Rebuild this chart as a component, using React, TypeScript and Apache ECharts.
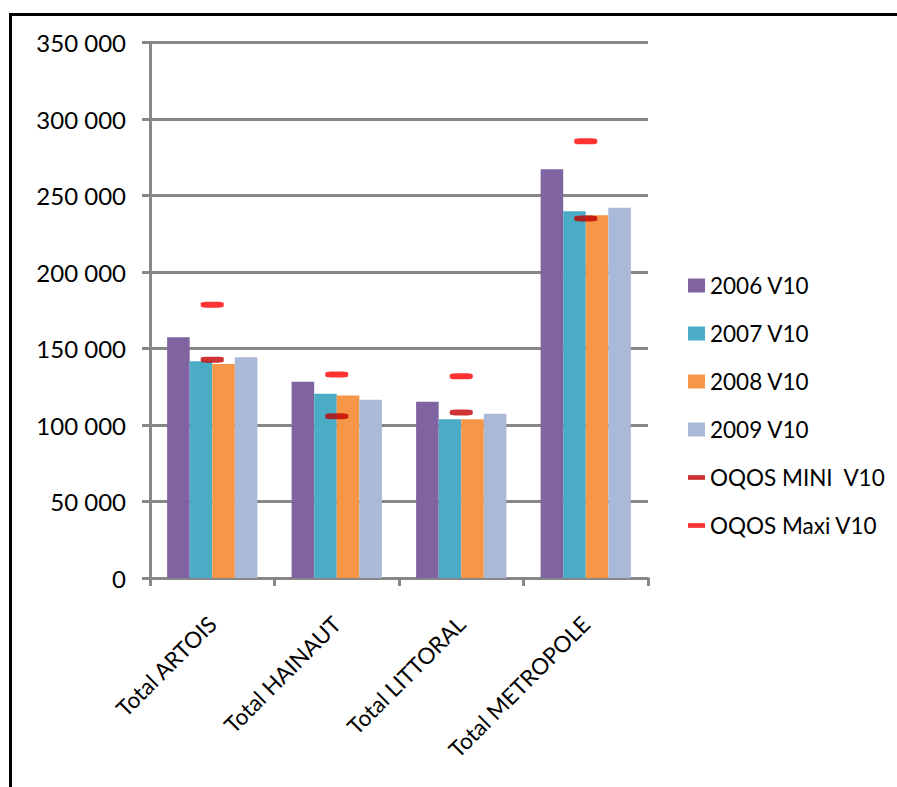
import React, { useEffect, useRef } from "react";
import * as echarts from "echarts";

const categories = ["Total ARTOIS", "Total HAINAUT", "Total LITTORAL", "Total METROPOLE"];
const seriesNames = ["2006 V10", "2007 V10", "2008 V10", "2009 V10", "OQOS MINI  V10", "OQOS Maxi V10"];
const v2006 = [157300, 128300, 115200, 267100];
const v2007 = [141600, 120500, 103700, 239700];
const v2008 = [139900, 119200, 103700, 237100];
const v2009 = [144300, 116500, 107400, 242000];
const oqosMini = [142700, 105700, 108200, 235000];
const oqosMaxi = [178600, 133000, 131800, 285400];

const barColors = ["#8064A2", "#4BACC6", "#F79646", "#AAB9D7"];
const miniColor = "#C00000";
const maxiColor = "#FF0000";

const fmt = (v: number) => String(v).replace(/\B(?=(\d{3})+(?!\d))/g, " ");

export default function App() {
  const ref = useRef<HTMLDivElement>(null);
  useEffect(() => {
    if (!ref.current) return;
    const chart = echarts.init(ref.current, null, { renderer: "svg" });
    const font = "Lato, 'Open Sans', sans-serif";
    const barData = [v2006, v2007, v2008, v2009];
    const dashIcon = "path://M0,0 L18,0 L18,5 L0,5 Z";
    chart.setOption({
      animation: false,
      backgroundColor: "#ffffff",
      textStyle: { fontFamily: font },
      graphic: [
        {
          type: "rect",
          shape: { x: 10.5, y: 14.5, width: 1200, height: 1200 },
          style: { fill: "none", stroke: "#000", lineWidth: 3 },
          silent: true,
          z: 100,
        },
      ],
      grid: { left: 150, top: 42.5, right: 249, bottom: 209, containLabel: false },
      legend: {
        orient: "vertical",
        left: 683,
        top: 269,
        itemWidth: 17,
        itemHeight: 14,
        itemGap: 25,
        symbolKeepAspect: true,
        textStyle: { fontFamily: font, fontSize: 22.5, color: "#000" },
        data: [
          { name: seriesNames[0], icon: "rect" },
          { name: seriesNames[1], icon: "rect" },
          { name: seriesNames[2], icon: "rect" },
          { name: seriesNames[3], icon: "rect" },
          { name: seriesNames[4], icon: dashIcon },
          { name: seriesNames[5], icon: dashIcon },
        ],
      },
      xAxis: {
        type: "category",
        data: categories,
        axisLine: { show: true, lineStyle: { color: "#878787", width: 3 } },
        axisTick: { show: true, length: 8, lineStyle: { color: "#878787", width: 3 } },
        axisLabel: {
          rotate: 45,
          interval: 0,
          margin: 42,
          fontFamily: font,
          fontSize: 22.5,
          color: "#000",
        },
        splitLine: { show: false },
      },
      yAxis: {
        type: "value",
        min: 0,
        max: 350000,
        interval: 50000,
        axisLine: { show: true, lineStyle: { color: "#878787", width: 3 } },
        axisTick: { show: true, length: 8, lineStyle: { color: "#878787", width: 3 } },
        axisLabel: {
          margin: 24,
          fontFamily: font,
          fontSize: 24,
          color: "#000",
          formatter: (v: number) => fmt(v),
        },
        splitLine: { show: true, lineStyle: { color: "#878787", width: 3 } },
      },
      series: [
        ...barData.map((d, i) => ({
          name: seriesNames[i],
          type: "bar",
          data: d,
          barGap: "0%",
          barCategoryGap: "27.5%",
          itemStyle: { color: barColors[i] },
        })),
        {
          name: seriesNames[4],
          type: "scatter",
          data: oqosMini,
          symbol: "roundRect",
          symbolSize: [23, 6],
          itemStyle: { color: miniColor },
          z: 5,
        },
        {
          name: seriesNames[5],
          type: "scatter",
          data: oqosMaxi,
          symbol: "roundRect",
          symbolSize: [23, 6],
          itemStyle: { color: maxiColor },
          z: 5,
        },
      ],
    });
    return () => chart.dispose();
  }, []);
  return (
    <div
      ref={ref}
      style={{ position: "absolute", left: 0, top: 0, width: 897, height: 787, background: "#fff" }}
    />
  );
}
